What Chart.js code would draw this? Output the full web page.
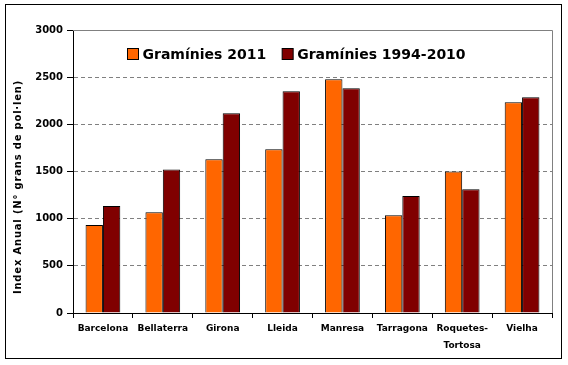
<!DOCTYPE html>
<html><head><meta charset="utf-8">
<script src="https://cdn.jsdelivr.net/npm/chart.js@4/dist/chart.umd.min.js"></script>
<style>html,body{margin:0;padding:0;background:#fff}#wrap{width:568px;height:365px}</style>
</head><body><div id="wrap"><canvas id="c" width="568" height="365"></canvas></div>
<script>
const categories = ['Barcelona','Bellaterra','Girona','Lleida','Manresa','Tarragona',['Roquetes-','Tortosa'],'Vielha'];
const series2011 = [933, 1067, 1629, 1735, 2477, 1035, 1500, 2234];
const series19942010 = [1134, 1520, 2117, 2350, 2382, 1240, 1311, 2287];
const seriesNames = ['Gramínies 2011','Gramínies 1994-2010'];
const yTicks = [0,500,1000,1500,2000,2500,3000];
const yTitle = 'Index Anual (N° grans de pol·len)';

const framePlugin = {
  id:'frame',
  beforeDraw(chart){
    const ctx = chart.ctx;
    ctx.save();
    ctx.fillStyle='#fff';
    ctx.fillRect(0,0,chart.width,chart.height);
    ctx.restore();
  },
  afterDraw(chart){
    const ctx = chart.ctx, a = chart.chartArea;
    ctx.save();
    ctx.strokeStyle='#808080'; ctx.lineWidth=1;
    ctx.beginPath();
    ctx.moveTo(a.left, a.top+0.5); ctx.lineTo(a.right+0.5, a.top+0.5);
    ctx.lineTo(a.right+0.5, a.bottom);
    ctx.stroke();
    ctx.strokeStyle='#000';
    ctx.strokeRect(5.5,4.5,556,354);
    // legend inside plot area
    ctx.font = 'bold 14px "DejaVu Sans"';
    ctx.textBaseline = 'alphabetic';
    let x = 127.5;
    const boxTop = 48.5, box = 11, baseline = 59;
    chart.data.datasets.forEach((d,i)=>{
      ctx.fillStyle = d.backgroundColor;
      ctx.fillRect(x, boxTop, box, box);
      ctx.strokeStyle = '#000'; ctx.lineWidth = 1;
      ctx.strokeRect(x, boxTop, box, box);
      x += box + 4;
      ctx.fillStyle = '#000';
      const w = ctx.measureText(d.label).width;
      ctx.fillText(d.label, x, baseline);
      x += w + 16;
    });
    // y axis title
    ctx.save();
    ctx.translate(18, 187);
    ctx.rotate(-Math.PI/2);
    ctx.font = 'bold 10px "DejaVu Sans"';
    try { ctx.letterSpacing = '0.8px'; } catch(e) {}
    ctx.textAlign = 'center';
    ctx.textBaseline = 'middle';
    ctx.fillStyle = '#000';
    ctx.fillText(yTitle, 0, 0);
    ctx.restore();
    ctx.restore();
  }
};

new Chart(document.getElementById('c'), {
  type:'bar',
  data:{labels:categories, datasets:[
    {label:seriesNames[0], data:series2011, backgroundColor:'#FF6600', borderColor:'#000', borderWidth:1},
    {label:seriesNames[1], data:series19942010, backgroundColor:'#800000', borderColor:'#000', borderWidth:1}
  ]},
  options:{
    responsive:false, animation:false, devicePixelRatio:1,
    layout:{padding:{left:0, top:30, right:16, bottom:0}},
    datasets:{bar:{categoryPercentage:0.58, barPercentage:1}},
    plugins:{
      tooltip:{enabled:false},
      legend:{display:false}
    },
    scales:{
      x:{
        afterFit(s){ s.height = 52; },
        grid:{offset:true, drawOnChartArea:false, drawTicks:true, tickLength:5, tickColor:'#000'},
        border:{color:'#000', width:1},
        ticks:{color:'#000', font:{family:'DejaVu Sans', weight:'bold', size:9, lineHeight:1.9}, padding:2, maxRotation:0, autoSkip:false}
      },
      y:{
        min:0, max:3000,
        afterFit(s){ s.width = 73; },
        afterBuildTicks(s){ s.ticks = yTicks.map(v=>({value:v})); },
        grid:{color:'#808080', tickColor:'#000', tickLength:6, tickBorderDash:[]},
        border:{color:'#000', width:1, dash:[4,3]},
        ticks:{color:'#000', font:{family:'DejaVu Sans', weight:'bold', size:10}, padding:4, callback:v=>String(v)},
        title:{display:false}
      }
    }
  },
  plugins:[framePlugin]
});
</script></body></html>
